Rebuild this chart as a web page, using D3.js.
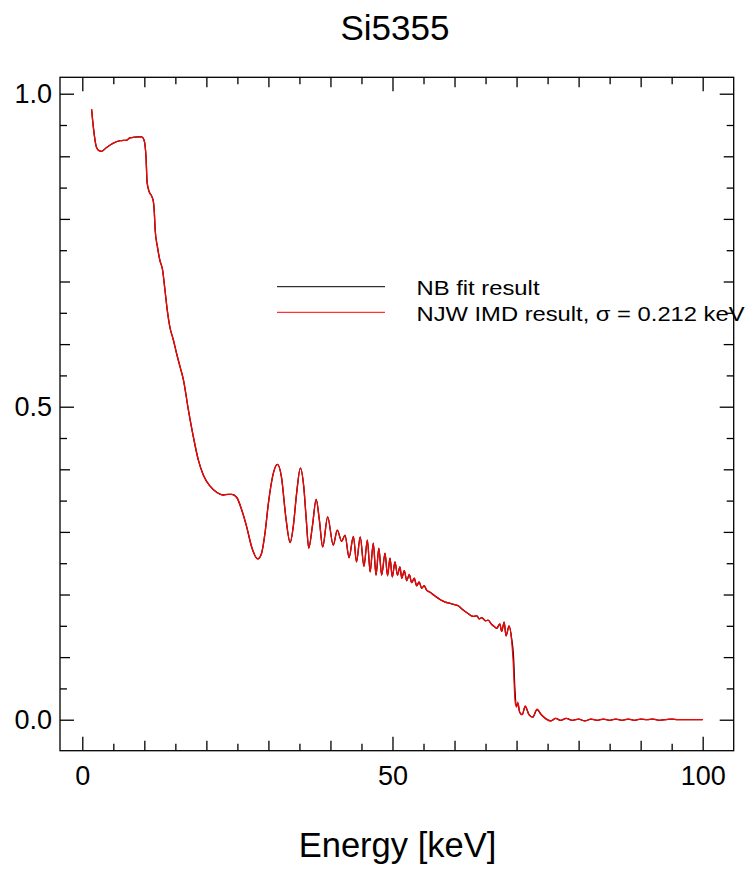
<!DOCTYPE html>
<html><head><meta charset="utf-8">
<script src="https://cdn.jsdelivr.net/npm/d3@7"></script>
<style>html,body{margin:0;padding:0;background:#fff;}svg{display:block;}</style>
</head><body>
<svg id="c" width="749" height="876"></svg>
<script>
const title = "Si5355";
const xLabel = "Energy [keV]";
const seriesNames = ["NB fit result", "NJW IMD result, \u03c3 = 0.212 keV"];
const xTickLabels = [0, 50, 100];
const yTickLabels = [0.0, 0.5, 1.0];

const energy = [1.5,1.8,2.05,2.3,2.7,3.1,3.9,5.0,6.1,7.2,7.6,7.95,9.0,9.6,9.95,10.27,10.45,10.8,11.2,11.45,11.6,11.75,12.1,12.5,12.95,13.33,13.7,14.1,14.67,15.2,15.75,16.3,17.1,17.9,18.7,19.5,20.6,21.7,22.7,23.5,24.1,24.9,25.7,26.5,27.3,28.3,28.9,29.45,30.0,30.8,31.45,32.1,32.8,33.5,34.0,34.55,35.15,35.7,36.1,36.5,37.1,37.7,38.2,38.75,39.55,40.45,41.1,41.8,42.35,43.0,43.7,44.2,44.8,45.4,45.95,46.4,46.9,47.35,47.8,48.25,48.8,49.2,49.6,49.97,50.4,50.8,51.2,51.5,51.9,52.3,52.7,53.1,53.5,53.9,54.3,54.7,55.1,55.5,56.05,56.8,57.65,58.5,59.3,60.0,60.6,61.3,62.0,63.0,63.6,64.0,64.4,65.0,65.4,66.0,66.5,66.8,67.3,67.6,68.0,68.3,68.8,69.2,69.5,69.75,70.0,70.2,70.5,70.9,71.4,72.0,72.6,73.3,74.0,74.8,75.5,76.3,77.1,78.0,79.0,80.0,81.0,82.0,83.0,84.0,85.0,86.0,87.0,88.0,89.0,90.0,91.0,92.0,93.0,94.0,95.0,96.0,97.0,98.0,99.0,100.0];

const njwValues = [0.975,0.945,0.926,0.914,0.909,0.908,0.914,0.921,0.925,0.926,0.929,0.930,0.931,0.931,0.926,0.899,0.858,0.843,0.836,0.828,0.812,0.782,0.756,0.734,0.718,0.686,0.654,0.628,0.607,0.585,0.564,0.543,0.495,0.452,0.415,0.391,0.373,0.363,0.359,0.360,0.360,0.355,0.335,0.308,0.276,0.257,0.266,0.298,0.346,0.394,0.408,0.388,0.324,0.283,0.308,0.362,0.402,0.372,0.320,0.274,0.310,0.352,0.320,0.276,0.324,0.279,0.303,0.285,0.295,0.259,0.293,0.252,0.292,0.245,0.287,0.236,0.282,0.231,0.274,0.231,0.266,0.230,0.258,0.228,0.252,0.231,0.244,0.226,0.238,0.222,0.232,0.219,0.226,0.214,0.220,0.210,0.214,0.207,0.2035,0.198,0.192,0.188,0.186,0.184,0.182,0.176,0.171,0.165,0.166,0.161,0.163,0.158,0.159,0.152,0.148,0.146,0.153,0.141,0.156,0.134,0.150,0.127,0.085,0.031,0.020,0.028,0.012,0.008,0.022,0.008,0.004,0.017,0.008,0.001,-0.002,0.002,-0.001,0.002,-0.001,0.001,-0.002,0.001,-0.001,0.001,-0.001,0.001,-0.001,0.001,-0.001,0.001,0.000,0.001,-0.001,0.000,0.001,0.000,0.000,0.000,0.000,0.000];

const nbValues = [0.975,0.945,0.926,0.914,0.909,0.908,0.914,0.921,0.925,0.926,0.929,0.930,0.931,0.931,0.926,0.899,0.858,0.843,0.836,0.828,0.812,0.782,0.756,0.734,0.718,0.686,0.654,0.628,0.607,0.585,0.564,0.543,0.495,0.452,0.415,0.391,0.373,0.363,0.359,0.360,0.360,0.355,0.335,0.308,0.276,0.257,0.266,0.298,0.346,0.394,0.408,0.388,0.324,0.283,0.308,0.362,0.402,0.372,0.320,0.274,0.310,0.352,0.320,0.276,0.324,0.279,0.303,0.285,0.295,0.259,0.293,0.252,0.292,0.245,0.287,0.236,0.282,0.231,0.274,0.231,0.266,0.230,0.258,0.228,0.252,0.231,0.244,0.226,0.238,0.222,0.232,0.219,0.226,0.214,0.220,0.210,0.214,0.207,0.2035,0.198,0.192,0.188,0.186,0.184,0.182,0.176,0.171,0.165,0.166,0.161,0.163,0.158,0.159,0.152,0.148,0.146,0.153,0.141,0.156,0.134,0.150,0.130,0.102,0.045,0.022,0.026,0.012,0.008,0.021,0.008,0.004,0.016,0.008,0.001,-0.002,0.002,-0.001,0.002,-0.001,0.001,-0.002,0.001,-0.001,0.001,-0.001,0.001,-0.001,0.001,-0.001,0.001,0.000,0.001,-0.001,0.000,0.001,0.000,0.000,0.000,0.000,0.000];

const svg = d3.select("#c");
const FONT = "'Liberation Sans', Arial, Helvetica, sans-serif";
const L = 60, R = 733.7, T = 77.3, B = 750.7;

const x = d3.scaleLinear().domain([-3.594, 105.0]).range([L, R]);
const y = d3.scaleLinear().domain([-0.0495, 1.0262]).range([B, T]);

// frame
svg.append("rect").attr("x", L).attr("y", T).attr("width", R - L).attr("height", B - T)
  .attr("fill", "none").attr("stroke", "#000").attr("stroke-width", 1.3);

const xMinorA = d3.range(10, 100, 10).filter(v => v % 50 !== 0);
const xMinorB = d3.range(5, 100, 10);
const yMinorA = [0.1,0.2,0.3,0.4,0.6,0.7,0.8,0.9];
const yMinorB = [0.05,0.15,0.25,0.35,0.45,0.55,0.65,0.75,0.85,0.95];

function addAxis(gen, tr, vals, size, labels) {
  const g = svg.append("g").attr("transform", tr)
    .call(gen(gen === d3.axisBottom || gen === d3.axisTop ? x : y)
      .tickValues(vals).tickSizeInner(size).tickSizeOuter(0).tickPadding(10)
      .tickFormat(labels ? (gen === d3.axisLeft ? d3.format(".1f") : d3.format("d")) : ""));
  g.select(".domain").remove();
  g.selectAll(".tick line").attr("stroke", "#000").attr("stroke-width", 1.3);
  g.selectAll("text").attr("font-family", FONT).attr("font-size", 27).attr("fill", "#000");
  return g;
}
// bottom
const gb = addAxis(d3.axisBottom, `translate(0,${B})`, xTickLabels, -14, true);
gb.selectAll("text").attr("dy", null).attr("y", 34);
addAxis(d3.axisBottom, `translate(0,${B})`, xMinorA, -10, false);
addAxis(d3.axisBottom, `translate(0,${B})`, xMinorB, -7, false);
// top
addAxis(d3.axisTop, `translate(0,${T})`, xTickLabels, -14, false);
addAxis(d3.axisTop, `translate(0,${T})`, xMinorA, -10, false);
addAxis(d3.axisTop, `translate(0,${T})`, xMinorB, -7, false);
// left
const gl = addAxis(d3.axisLeft, `translate(${L},0)`, yTickLabels, -14, true);
gl.selectAll("text").attr("x", -8);
addAxis(d3.axisLeft, `translate(${L},0)`, yMinorA, -10, false);
addAxis(d3.axisLeft, `translate(${L},0)`, yMinorB, -7, false);
// right
addAxis(d3.axisRight, `translate(${R},0)`, yTickLabels, -14, false);
addAxis(d3.axisRight, `translate(${R},0)`, yMinorA, -10, false);
addAxis(d3.axisRight, `translate(${R},0)`, yMinorB, -7, false);

// lines
const line = d3.line().x(d => x(d[0])).y(d => y(d[1])).curve(d3.curveMonotoneX);
const nbData = energy.map((e, i) => [e, nbValues[i]]);
const njwData = energy.map((e, i) => [e, njwValues[i]]);
svg.append("path").datum(nbData).attr("d", line).attr("fill", "none")
  .attr("stroke", "#000").attr("stroke-width", 1.3);
svg.append("path").datum(njwData).attr("d", line).attr("fill", "none")
  .attr("stroke", "#ff0000").attr("stroke-width", 1.3);

// legend
const legColors = ["#000", "#ff0000"];
const legWidths = [123, 328];
seriesNames.forEach((name, i) => {
  const ly = 286.7 + i * 25.6;
  svg.append("line").attr("x1", 277).attr("x2", 385).attr("y1", ly).attr("y2", ly)
    .attr("stroke", legColors[i]).attr("stroke-width", 1);
  svg.append("text").attr("x", 416.5).attr("y", ly + 8.6).text(name)
    .attr("font-family", FONT).attr("font-size", 21).attr("fill", "#000")
    .attr("textLength", legWidths[i]).attr("lengthAdjust", "spacingAndGlyphs");
});

// title & x label
svg.append("text").attr("x", 395).attr("y", 40).attr("text-anchor", "middle")
  .attr("font-family", FONT).attr("font-size", 35).text(title);
svg.append("text").attr("x", 397.5).attr("y", 857).attr("text-anchor", "middle")
  .attr("font-family", FONT).attr("font-size", 34.5).text(xLabel);
</script>
</body></html>
